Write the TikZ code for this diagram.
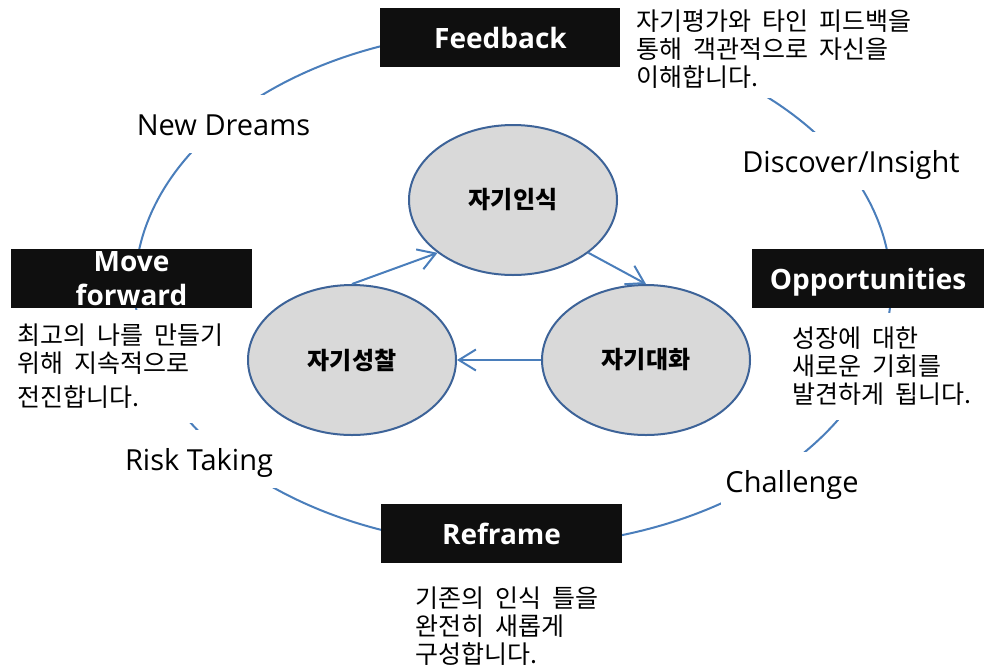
\documentclass[tikz,border=0pt]{standalone}
\usepackage{fontspec}
\setmainfont{Open Sans}
\newfontfamily\kor{Noto Sans CJK KR}[WordSpace=2]
\usepackage{tikz}
\usetikzlibrary{shapes.geometric,arrows.meta}
\definecolor{stageblack}{HTML}{0F0F0F}
\definecolor{selfgray}{HTML}{D9D9D9}
\definecolor{rimblue}{HTML}{3D6398}
\definecolor{flowblue}{HTML}{4A7EBB}

\begin{document}
\begin{tikzpicture}[x=1pt,y=-1pt,
	stage/.style={fill=stageblack, text=white, font=\bfseries\fontsize{28}{34}\selectfont,
		minimum width=241pt, minimum height=59pt, inner sep=0pt, align=center, text depth=0pt},
	cue/.style={fill=white, font=\fontsize{29}{34}\selectfont, anchor=base,
		text height=25pt, text depth=3pt, minimum height=58pt, inner xsep=4pt},
	note/.style={fill=white, font=\kor\fontsize{25}{28}\selectfont, align=left,
		anchor=north west, inner xsep=2pt},
	self/.style={ellipse, draw=rimblue, line width=2pt, fill=selfgray,
		minimum width=208pt, minimum height=150pt, font=\kor\bfseries\fontsize{24}{28}\selectfont},
	flow/.style={draw=flowblue, line width=2pt, -{Straight Barb[length=17pt,width=21pt]}},
	ring/.style={draw=flowblue, line width=2pt}]
	\useasboundingbox (0,0) rectangle (984,665);
	\draw[ring] (513,288) ellipse [x radius=378pt, y radius=258pt];

	\node[stage] (feedback) at (500.5,37.5) {Feedback};
	\node[stage, minimum width=232pt] (opportunities) at (868,278.5) {Opportunities};
	\node[stage] (reframe) at (501.5,533.5) {Reframe};
	\node[stage, text depth=] (moveforward) at (131.5,278.5) {Move\\forward};

	\node[cue] (newdreams) at (223.5,135) {New Dreams};
	\node[cue] (discover) at (851,172) {Discover/Insight};
	\node[cue] (risktaking) at (199,470) {Risk Taking};
	\node[cue] (challenge) at (792,492) {Challenge};

	\node[note, inner xsep=16pt, inner ysep=9pt] (feedbacknote) at (620,1) {자기평가와 타인 피드백을\\통해 객관적으로 자신을\\이해합니다.};
	\node[note, inner ysep=14pt] (opportunitiesnote) at (790,313) {성장에 대한\\새로운 기회를\\발견하게 됩니다.};
	\node[note, inner ysep=14pt] (moveforwardnote) at (15,310) {최고의 나를 만들기\\위해 지속적으로\\[6pt]전진합니다.};
	\node[note, inner ysep=4pt] (reframenote) at (413,583) {기존의 인식 틀을\\완전히 새롭게\\구성합니다.};

	\node[self] (insik) at (513,200) {자기인식};
	\node[self] (daehwa) at (646,360) {자기대화};
	\node[self] (seongchal) at (352,360) {자기성찰};

	\draw[flow] (seongchal.north) -- (insik.215);
	\draw[flow] (insik.-35) -- (daehwa.north);
	\draw[flow] (daehwa.west) -- (seongchal.east);
\end{tikzpicture}
\end{document}
